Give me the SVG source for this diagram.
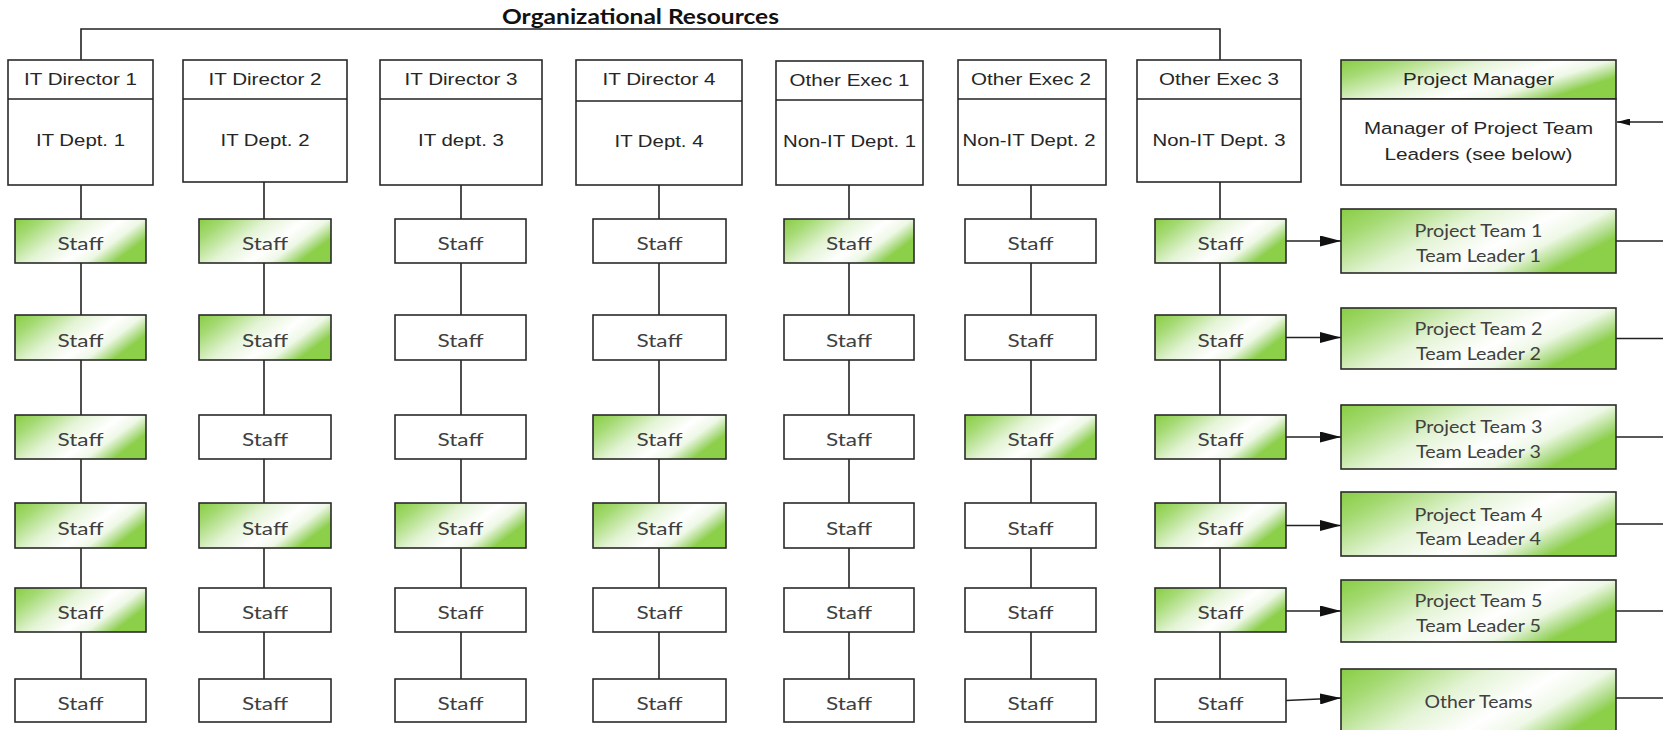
<svg xmlns="http://www.w3.org/2000/svg" width="1663" height="730" viewBox="0 0 1663 730">
<style>
.box{fill:#fff;stroke:#2a2a2a;stroke-width:1.6}
.g{fill:url(#grn)}
.ln{stroke:#222;stroke-width:1.6;fill:none}
.a{font-family:"Liberation Sans",Arial,sans-serif;font-size:16.3px;fill:#262626;text-anchor:middle}
.c{font-family:Lato,"Open Sans",sans-serif;font-size:17px;font-weight:400;fill:#404040;text-anchor:middle}
.p{font-family:Lato,"Open Sans",sans-serif;font-size:18px;font-weight:400;fill:#404040;text-anchor:middle}
.t{font-family:Lato,"Open Sans",sans-serif;font-size:20px;font-weight:bold;fill:#111;text-anchor:middle}
</style>
<defs>
<linearGradient id="grn" x1="0" y1="0" x2="1" y2="0.45">
<stop offset="0" stop-color="#88cd43"/>
<stop offset="0.18" stop-color="#a5da73"/>
<stop offset="0.45" stop-color="#e4f4d6"/>
<stop offset="0.68" stop-color="#ffffff"/>
<stop offset="0.82" stop-color="#eef8e6"/>
<stop offset="0.95" stop-color="#a6d97a"/>
<stop offset="1" stop-color="#8ccf48"/>
</linearGradient>
<marker id="arr" viewBox="0 0 21 11" refX="21" refY="5.5" markerWidth="21" markerHeight="11" markerUnits="userSpaceOnUse" orient="auto">
<path d="M0,0 L21,5.5 L0,11 z" fill="#111"/>
</marker>
<marker id="arrs" viewBox="0 0 13 7" refX="13" refY="3.5" markerWidth="13" markerHeight="7" markerUnits="userSpaceOnUse" orient="auto">
<path d="M0,0 L13,3.5 L0,7 z" fill="#111"/>
</marker>
</defs>
<rect width="1663" height="730" fill="#fff"/>
<text class="t" x="640.5" y="24" textLength="277" lengthAdjust="spacingAndGlyphs">Organizational Resources</text>

<g id="connectors">
<path class="ln" d="M81,60 V29 H1220 V60"/>
<line class="ln" x1="81" y1="185" x2="81" y2="679"/>
<line class="ln" x1="264" y1="182" x2="264" y2="679"/>
<line class="ln" x1="461" y1="185" x2="461" y2="679"/>
<line class="ln" x1="659" y1="185" x2="659" y2="679"/>
<line class="ln" x1="849" y1="185" x2="849" y2="679"/>
<line class="ln" x1="1031" y1="185" x2="1031" y2="679"/>
<line class="ln" x1="1220" y1="182" x2="1220" y2="679"/>
<line class="ln" x1="1286" y1="241" x2="1341" y2="241" marker-end="url(#arr)"/>
<line class="ln" x1="1286" y1="337.5" x2="1341" y2="337.5" marker-end="url(#arr)"/>
<line class="ln" x1="1286" y1="437" x2="1341" y2="437" marker-end="url(#arr)"/>
<line class="ln" x1="1286" y1="525.5" x2="1341" y2="525.5" marker-end="url(#arr)"/>
<line class="ln" x1="1286" y1="611" x2="1341" y2="611" marker-end="url(#arr)"/>
<line class="ln" x1="1286" y1="700.5" x2="1341" y2="698" marker-end="url(#arr)"/>
<line class="ln" x1="1616" y1="241" x2="1663" y2="241"/>
<line class="ln" x1="1616" y1="338.5" x2="1663" y2="338.5"/>
<line class="ln" x1="1616" y1="437" x2="1663" y2="437"/>
<line class="ln" x1="1616" y1="524" x2="1663" y2="524"/>
<line class="ln" x1="1616" y1="611" x2="1663" y2="611"/>
<line class="ln" x1="1616" y1="698" x2="1663" y2="698"/>
<line class="ln" x1="1663" y1="122" x2="1617" y2="122" marker-end="url(#arrs)"/>
</g>

<g id="it-director-1">
<rect class="box" x="8" y="60" width="145" height="125"/><line class="ln" x1="8" y1="99" x2="153" y2="99"/>
<text class="a" x="80.5" y="85" textLength="113" lengthAdjust="spacingAndGlyphs">IT Director 1</text>
<text class="a" x="80.5" y="146" textLength="89" lengthAdjust="spacingAndGlyphs">IT Dept. 1</text>
</g>
<g id="it-director-2">
<rect class="box" x="183" y="60" width="164" height="122"/><line class="ln" x1="183" y1="99" x2="347" y2="99"/>
<text class="a" x="265" y="85" textLength="113" lengthAdjust="spacingAndGlyphs">IT Director 2</text>
<text class="a" x="265" y="146" textLength="89" lengthAdjust="spacingAndGlyphs">IT Dept. 2</text>
</g>
<g id="it-director-3">
<rect class="box" x="380" y="60" width="162" height="125"/><line class="ln" x1="380" y1="99" x2="542" y2="99"/>
<text class="a" x="461" y="85" textLength="113" lengthAdjust="spacingAndGlyphs">IT Director 3</text>
<text class="a" x="461" y="146" textLength="86" lengthAdjust="spacingAndGlyphs">IT dept. 3</text>
</g>
<g id="it-director-4">
<rect class="box" x="576" y="60" width="166" height="125"/><line class="ln" x1="576" y1="101" x2="742" y2="101"/>
<text class="a" x="659" y="85" textLength="113" lengthAdjust="spacingAndGlyphs">IT Director 4</text>
<text class="a" x="659" y="147" textLength="89" lengthAdjust="spacingAndGlyphs">IT Dept. 4</text>
</g>
<g id="other-exec-1">
<rect class="box" x="776" y="61" width="147" height="124"/><line class="ln" x1="776" y1="100" x2="923" y2="100"/>
<text class="a" x="849.5" y="86" textLength="120" lengthAdjust="spacingAndGlyphs">Other Exec 1</text>
<text class="a" x="849.5" y="147" textLength="133" lengthAdjust="spacingAndGlyphs">Non-IT Dept. 1</text>
</g>
<g id="other-exec-2">
<rect class="box" x="958" y="60" width="148" height="125"/><line class="ln" x1="958" y1="99" x2="1106" y2="99"/>
<text class="a" x="1031" y="85" textLength="120" lengthAdjust="spacingAndGlyphs">Other Exec 2</text>
<text class="a" x="1029" y="146" textLength="133" lengthAdjust="spacingAndGlyphs">Non-IT Dept. 2</text>
</g>
<g id="other-exec-3">
<rect class="box" x="1137" y="60" width="164" height="122"/><line class="ln" x1="1137" y1="99" x2="1301" y2="99"/>
<text class="a" x="1219" y="85" textLength="120" lengthAdjust="spacingAndGlyphs">Other Exec 3</text>
<text class="a" x="1219" y="146" textLength="133" lengthAdjust="spacingAndGlyphs">Non-IT Dept. 3</text>
</g>
<g id="project-manager">
<rect class="box g" x="1341" y="60" width="275" height="39"/>
<rect class="box" x="1341" y="99" width="275" height="86"/>
<text class="a" x="1478.5" y="85" textLength="151" lengthAdjust="spacingAndGlyphs">Project Manager</text>
<text class="a" x="1478.5" y="134" textLength="229" lengthAdjust="spacingAndGlyphs">Manager of Project Team</text>
<text class="a" x="1478.5" y="160" textLength="188" lengthAdjust="spacingAndGlyphs">Leaders (see below)</text>
</g>

<g id="staff-col1">
<rect class="box g" x="15" y="219" width="131" height="44"/><text class="c" x="80.5" y="250" textLength="46" lengthAdjust="spacingAndGlyphs">Staff</text>
<rect class="box g" x="15" y="315" width="131" height="45"/><text class="c" x="80.5" y="346.5" textLength="46" lengthAdjust="spacingAndGlyphs">Staff</text>
<rect class="box g" x="15" y="415" width="131" height="44"/><text class="c" x="80.5" y="446" textLength="46" lengthAdjust="spacingAndGlyphs">Staff</text>
<rect class="box g" x="15" y="503" width="131" height="45"/><text class="c" x="80.5" y="534.5" textLength="46" lengthAdjust="spacingAndGlyphs">Staff</text>
<rect class="box g" x="15" y="588" width="131" height="44"/><text class="c" x="80.5" y="619" textLength="46" lengthAdjust="spacingAndGlyphs">Staff</text>
<rect class="box" x="15" y="679" width="131" height="43"/><text class="c" x="80.5" y="709.5" textLength="46" lengthAdjust="spacingAndGlyphs">Staff</text>
</g>
<g id="staff-col2">
<rect class="box g" x="199" y="219" width="132" height="44"/><text class="c" x="265" y="250" textLength="46" lengthAdjust="spacingAndGlyphs">Staff</text>
<rect class="box g" x="199" y="315" width="132" height="45"/><text class="c" x="265" y="346.5" textLength="46" lengthAdjust="spacingAndGlyphs">Staff</text>
<rect class="box" x="199" y="415" width="132" height="44"/><text class="c" x="265" y="446" textLength="46" lengthAdjust="spacingAndGlyphs">Staff</text>
<rect class="box g" x="199" y="503" width="132" height="45"/><text class="c" x="265" y="534.5" textLength="46" lengthAdjust="spacingAndGlyphs">Staff</text>
<rect class="box" x="199" y="588" width="132" height="44"/><text class="c" x="265" y="619" textLength="46" lengthAdjust="spacingAndGlyphs">Staff</text>
<rect class="box" x="199" y="679" width="132" height="43"/><text class="c" x="265" y="709.5" textLength="46" lengthAdjust="spacingAndGlyphs">Staff</text>
</g>
<g id="staff-col3">
<rect class="box" x="395" y="219" width="131" height="44"/><text class="c" x="460.5" y="250" textLength="46" lengthAdjust="spacingAndGlyphs">Staff</text>
<rect class="box" x="395" y="315" width="131" height="45"/><text class="c" x="460.5" y="346.5" textLength="46" lengthAdjust="spacingAndGlyphs">Staff</text>
<rect class="box" x="395" y="415" width="131" height="44"/><text class="c" x="460.5" y="446" textLength="46" lengthAdjust="spacingAndGlyphs">Staff</text>
<rect class="box g" x="395" y="503" width="131" height="45"/><text class="c" x="460.5" y="534.5" textLength="46" lengthAdjust="spacingAndGlyphs">Staff</text>
<rect class="box" x="395" y="588" width="131" height="44"/><text class="c" x="460.5" y="619" textLength="46" lengthAdjust="spacingAndGlyphs">Staff</text>
<rect class="box" x="395" y="679" width="131" height="43"/><text class="c" x="460.5" y="709.5" textLength="46" lengthAdjust="spacingAndGlyphs">Staff</text>
</g>
<g id="staff-col4">
<rect class="box" x="593" y="219" width="133" height="44"/><text class="c" x="659.5" y="250" textLength="46" lengthAdjust="spacingAndGlyphs">Staff</text>
<rect class="box" x="593" y="315" width="133" height="45"/><text class="c" x="659.5" y="346.5" textLength="46" lengthAdjust="spacingAndGlyphs">Staff</text>
<rect class="box g" x="593" y="415" width="133" height="44"/><text class="c" x="659.5" y="446" textLength="46" lengthAdjust="spacingAndGlyphs">Staff</text>
<rect class="box g" x="593" y="503" width="133" height="45"/><text class="c" x="659.5" y="534.5" textLength="46" lengthAdjust="spacingAndGlyphs">Staff</text>
<rect class="box" x="593" y="588" width="133" height="44"/><text class="c" x="659.5" y="619" textLength="46" lengthAdjust="spacingAndGlyphs">Staff</text>
<rect class="box" x="593" y="679" width="133" height="43"/><text class="c" x="659.5" y="709.5" textLength="46" lengthAdjust="spacingAndGlyphs">Staff</text>
</g>
<g id="staff-col5">
<rect class="box g" x="784" y="219" width="130" height="44"/><text class="c" x="849" y="250" textLength="46" lengthAdjust="spacingAndGlyphs">Staff</text>
<rect class="box" x="784" y="315" width="130" height="45"/><text class="c" x="849" y="346.5" textLength="46" lengthAdjust="spacingAndGlyphs">Staff</text>
<rect class="box" x="784" y="415" width="130" height="44"/><text class="c" x="849" y="446" textLength="46" lengthAdjust="spacingAndGlyphs">Staff</text>
<rect class="box" x="784" y="503" width="130" height="45"/><text class="c" x="849" y="534.5" textLength="46" lengthAdjust="spacingAndGlyphs">Staff</text>
<rect class="box" x="784" y="588" width="130" height="44"/><text class="c" x="849" y="619" textLength="46" lengthAdjust="spacingAndGlyphs">Staff</text>
<rect class="box" x="784" y="679" width="130" height="43"/><text class="c" x="849" y="709.5" textLength="46" lengthAdjust="spacingAndGlyphs">Staff</text>
</g>
<g id="staff-col6">
<rect class="box" x="965" y="219" width="131" height="44"/><text class="c" x="1030.5" y="250" textLength="46" lengthAdjust="spacingAndGlyphs">Staff</text>
<rect class="box" x="965" y="315" width="131" height="45"/><text class="c" x="1030.5" y="346.5" textLength="46" lengthAdjust="spacingAndGlyphs">Staff</text>
<rect class="box g" x="965" y="415" width="131" height="44"/><text class="c" x="1030.5" y="446" textLength="46" lengthAdjust="spacingAndGlyphs">Staff</text>
<rect class="box" x="965" y="503" width="131" height="45"/><text class="c" x="1030.5" y="534.5" textLength="46" lengthAdjust="spacingAndGlyphs">Staff</text>
<rect class="box" x="965" y="588" width="131" height="44"/><text class="c" x="1030.5" y="619" textLength="46" lengthAdjust="spacingAndGlyphs">Staff</text>
<rect class="box" x="965" y="679" width="131" height="43"/><text class="c" x="1030.5" y="709.5" textLength="46" lengthAdjust="spacingAndGlyphs">Staff</text>
</g>
<g id="staff-col7">
<rect class="box g" x="1155" y="219" width="131" height="44"/><text class="c" x="1220.5" y="250" textLength="46" lengthAdjust="spacingAndGlyphs">Staff</text>
<rect class="box g" x="1155" y="315" width="131" height="45"/><text class="c" x="1220.5" y="346.5" textLength="46" lengthAdjust="spacingAndGlyphs">Staff</text>
<rect class="box g" x="1155" y="415" width="131" height="44"/><text class="c" x="1220.5" y="446" textLength="46" lengthAdjust="spacingAndGlyphs">Staff</text>
<rect class="box g" x="1155" y="503" width="131" height="45"/><text class="c" x="1220.5" y="534.5" textLength="46" lengthAdjust="spacingAndGlyphs">Staff</text>
<rect class="box g" x="1155" y="588" width="131" height="44"/><text class="c" x="1220.5" y="619" textLength="46" lengthAdjust="spacingAndGlyphs">Staff</text>
<rect class="box" x="1155" y="679" width="131" height="43"/><text class="c" x="1220.5" y="709.5" textLength="46" lengthAdjust="spacingAndGlyphs">Staff</text>
</g>

<g id="project-team-1">
<rect class="box g" x="1341" y="209" width="275" height="64"/>
<text class="p" x="1478.5" y="237" textLength="128" lengthAdjust="spacingAndGlyphs">Project Team 1</text>
<text class="p" x="1478.5" y="262" textLength="125" lengthAdjust="spacingAndGlyphs">Team Leader 1</text>
</g>
<g id="project-team-2">
<rect class="box g" x="1341" y="308" width="275" height="61"/>
<text class="p" x="1478.5" y="334.5" textLength="128" lengthAdjust="spacingAndGlyphs">Project Team 2</text>
<text class="p" x="1478.5" y="359.5" textLength="125" lengthAdjust="spacingAndGlyphs">Team Leader 2</text>
</g>
<g id="project-team-3">
<rect class="box g" x="1341" y="405" width="275" height="64"/>
<text class="p" x="1478.5" y="433" textLength="128" lengthAdjust="spacingAndGlyphs">Project Team 3</text>
<text class="p" x="1478.5" y="458" textLength="125" lengthAdjust="spacingAndGlyphs">Team Leader 3</text>
</g>
<g id="project-team-4">
<rect class="box g" x="1341" y="492" width="275" height="64"/>
<text class="p" x="1478.5" y="520.5" textLength="128" lengthAdjust="spacingAndGlyphs">Project Team 4</text>
<text class="p" x="1478.5" y="545" textLength="125" lengthAdjust="spacingAndGlyphs">Team Leader 4</text>
</g>
<g id="project-team-5">
<rect class="box g" x="1341" y="580" width="275" height="62"/>
<text class="p" x="1478.5" y="606.5" textLength="128" lengthAdjust="spacingAndGlyphs">Project Team 5</text>
<text class="p" x="1478.5" y="631.5" textLength="125" lengthAdjust="spacingAndGlyphs">Team Leader 5</text>
</g>
<g id="other-teams">
<rect class="box g" x="1341" y="669" width="275" height="76"/>
<text class="p" x="1478.5" y="708" textLength="108" lengthAdjust="spacingAndGlyphs">Other Teams</text>
</g>
</svg>
